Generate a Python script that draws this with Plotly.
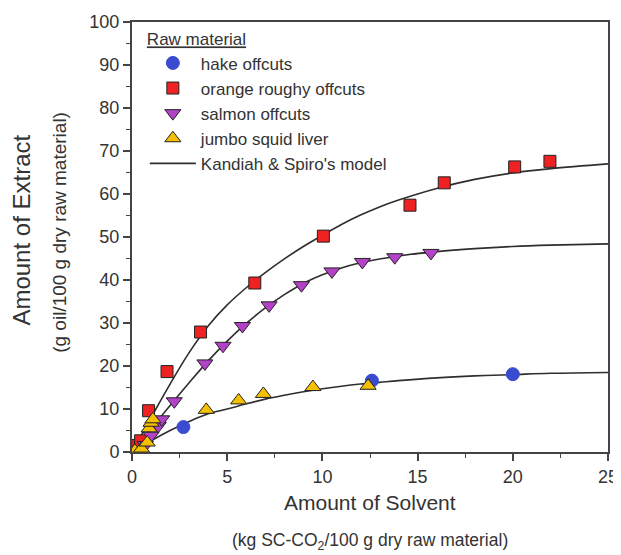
import plotly.graph_objects as go

# ---- data ----
hake_x = [0.0, 0.2, 2.7, 12.6, 20.0]
hake_y = [0.2, 0.5, 5.8, 16.6, 18.1]

rough_x = [0.0, 0.3, 0.45, 0.87, 1.84, 3.6, 6.45, 10.05, 14.6, 16.4, 20.1, 21.95]
rough_y = [0.0, 1.5, 2.6, 9.6, 18.7, 27.9, 39.3, 50.2, 57.4, 62.6, 66.3, 67.6]

salmon_x = [0.2, 0.7, 1.0, 1.38, 1.56, 2.22, 3.83, 4.78, 5.8, 7.2, 8.9, 10.5, 12.1, 13.8, 15.7]
salmon_y = [0.4, 1.6, 3.8, 6.1, 7.6, 11.8, 20.6, 24.7, 29.3, 34.1, 38.8, 42.0, 44.2, 45.3, 46.3]

squid_x = [0.15, 0.5, 0.8, 0.9, 1.0, 1.1, 3.9, 5.6, 6.9, 9.5, 12.4]
squid_y = [0.3, 0.8, 2.2, 5.5, 6.8, 7.6, 9.8, 12.0, 13.5, 15.1, 15.4]

# model curves (Kandiah & Spiro)
model_x = [0, 1, 2, 3, 4, 5, 6, 7, 8, 9, 10, 11, 12, 13, 14, 16, 18, 20, 22, 25]
model_rough = [0, 8.0, 15.8, 23.1, 29.3, 34.2, 38.2, 41.7, 44.9, 47.8, 50.4, 52.9,
               55.1, 57.0, 58.6, 61.3, 63.4, 64.9, 65.9, 67.0]
model_salmon = [0, 5.4, 10.8, 16.1, 21.2, 25.8, 29.9, 33.5, 36.6, 39.2, 41.2, 42.8,
                44.0, 44.9, 45.6, 46.6, 47.3, 47.8, 48.1, 48.4]
model_low = [0, 2.6, 5.0, 7.1, 8.9, 10.0, 11.2, 12.3, 13.2, 14.0, 14.7, 15.3,
             15.8, 16.2, 16.6, 17.25, 17.7, 18.0, 18.3, 18.5]

x_ticks = [0, 5, 10, 15, 20, 25]
y_ticks = [0, 10, 20, 30, 40, 50, 60, 70, 80, 90, 100]

x_title = ["Amount of Solvent", "(kg SC-CO<sub>2</sub>/100 g dry raw material)"]
y_title = ["Amount of Extract", "(g oil/100 g dry raw material)"]

FONT = "Arial, Liberation Sans, Helvetica, sans-serif"
TXT = "#333333"
AX = "#444444"

fig = go.Figure()

# model lines first (drawn beneath markers)
for i, yy in enumerate([model_rough, model_salmon, model_low]):
    fig.add_trace(go.Scatter(
        x=model_x, y=yy, mode="lines", line=dict(color="#2e2e2e", width=1.6, shape="spline"),
        name="Kandiah &amp; Spiro's model", showlegend=(i == 0), legendrank=1005,
        hoverinfo="skip"))

mk_line = dict(color="#222222", width=1)
fig.add_trace(go.Scatter(x=hake_x, y=hake_y, mode="markers", name="hake offcuts",
                         legendrank=1001,
                         marker=dict(symbol="circle", size=13, color="#3a4bd0",
                                     line=dict(color="#3a4bd0", width=1))))
fig.add_trace(go.Scatter(x=rough_x, y=rough_y, mode="markers", name="orange roughy offcuts",
                         legendrank=1002,
                         marker=dict(symbol="square", size=12, color="#ee2222", line=mk_line)))
fig.add_trace(go.Scatter(x=salmon_x, y=salmon_y, mode="markers", name="salmon offcuts",
                         legendrank=1003,
                         marker=dict(symbol="triangle-down", size=14, color="#b442c8", line=mk_line)))
fig.add_trace(go.Scatter(x=squid_x, y=squid_y, mode="markers", name="jumbo squid liver",
                         legendrank=1004,
                         marker=dict(symbol="triangle-up", size=14, color="#f5c000", line=mk_line)))

annotations = [
    dict(text=x_title[0], xref="paper", yref="paper", x=0.5, y=-0.117,
         xanchor="center", yanchor="middle", showarrow=False,
         font=dict(size=21, color=TXT, family=FONT)),
    dict(text=x_title[1], xref="paper", yref="paper", x=0.5, y=-0.207,
         xanchor="center", yanchor="middle", showarrow=False,
         font=dict(size=17.5, color=TXT, family=FONT)),
    dict(text=y_title[0], xref="paper", yref="paper", x=-0.231, y=0.515,
         xanchor="center", yanchor="middle", showarrow=False, textangle=-90,
         font=dict(size=24, color=TXT, family=FONT)),
    dict(text=y_title[1], xref="paper", yref="paper", x=-0.151, y=0.51,
         xanchor="center", yanchor="middle", showarrow=False, textangle=-90,
         font=dict(size=19, color=TXT, family=FONT)),
]

fig.update_layout(
    width=621, height=555,
    margin=dict(l=124, r=21, t=14, b=111),
    paper_bgcolor="white", plot_bgcolor="white",
    font=dict(family=FONT, color=TXT, size=16),
    annotations=annotations,
    legend=dict(
        x=0.027, y=0.997, xanchor="left", yanchor="top",
        bgcolor="rgba(0,0,0,0)", borderwidth=0,
        itemwidth=46,
        font=dict(size=17, color=TXT, family=FONT),
        title=dict(text="<span style='text-decoration:underline'>Raw material</span>",
                   font=dict(size=17, color=TXT, family=FONT)),
        itemsizing="trace",
    ),
    xaxis=dict(
        range=[0, 25], tickvals=x_ticks, ticktext=[str(v) for v in x_ticks],
        ticks="outside", ticklen=7, tickwidth=1.5, tickcolor=AX,
        minor=dict(dtick=2.5, ticks="outside", ticklen=4, tickwidth=1.2, tickcolor=AX, showgrid=False),
        showline=True, linecolor=AX, linewidth=2, mirror=True,
        showgrid=False, zeroline=False, automargin=False,
        ticklabeloverflow="allow",
        tickfont=dict(size=18, color=TXT),
    ),
    yaxis=dict(
        range=[0, 100], tickvals=y_ticks, ticktext=[str(v) for v in y_ticks],
        ticks="outside", ticklen=7, tickwidth=1.5, tickcolor=AX,
        minor=dict(dtick=5, ticks="outside", ticklen=4, tickwidth=1.2, tickcolor=AX, showgrid=False),
        showline=True, linecolor=AX, linewidth=2, mirror=True,
        showgrid=False, zeroline=False, automargin=False,
        ticklabeloverflow="allow",
        tickfont=dict(size=18, color=TXT),
    ),
)

fig.write_html("out.html")
